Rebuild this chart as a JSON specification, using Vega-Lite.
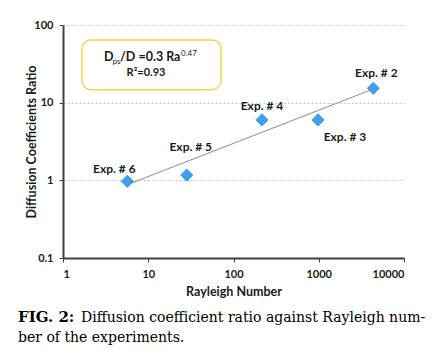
{
  "$schema": "https://vega.github.io/schema/vega-lite/v6.json",
  "width": 341,
  "height": 233,
  "autosize": {"type": "none"},
  "padding": {"left": 63, "top": 25, "right": 30, "bottom": 98},
  "background": "white",
  "config": {
    "view": {"stroke": null},
    "axis": {
      "labelFont": "Lato", "labelFontWeight": "bold", "labelFontSize": 11, "labelColor": "#1a1a1a",
      "titleFont": "Lato", "titleFontWeight": "bold", "titleFontSize": 12.5, "titleColor": "#1a1a1a",
      "domainColor": "#404040", "domainWidth": 2, "tickColor": "#404040", "tickSize": 4
    }
  },
  "title": {
    "text": "FIG. 2:",
    "subtitle": ["\u200b\u2002\u2002\u2002\u2002\u2002\u2002\u2002\u2002\u2002Diffusion coefficient ratio against Rayleigh num-", "ber of the experiments."],
    "orient": "bottom", "anchor": "start", "frame": "group", "dx": -45, "offset": 12,
    "font": "DejaVu Serif", "fontSize": 15, "fontWeight": "bold", "color": "black",
    "subtitleFont": "DejaVu Serif", "subtitleFontSize": 14, "subtitleFontWeight": "normal", "subtitleColor": "black",
    "subtitlePadding": -14, "subtitleLineHeight": 20
  },
  "datasets": {
    "points": [
      {"label": "Exp. # 2", "Ra": 4365, "ratio": 15.3},
      {"label": "Exp. # 3", "Ra": 980, "ratio": 6.0},
      {"label": "Exp. # 4", "Ra": 216, "ratio": 6.0},
      {"label": "Exp. # 5", "Ra": 28.3, "ratio": 1.17},
      {"label": "Exp. # 6", "Ra": 5.68, "ratio": 0.97}
    ],
    "trend": [
      {"Ra": 6.0, "ratio": 0.9},
      {"Ra": 4365, "ratio": 15.0}
    ],
    "box": [
      {"Ra": 1.67, "Ra2": 71.3, "ratio": 14.7, "ratio2": 64.3}
    ],
    "eq1": [{"Ra": 3.03, "ratio": 34.5}],
    "eq2": [{"Ra": 9.41, "ratio": 22.2}]
  },
  "encoding": {
    "x": {
      "field": "Ra", "type": "quantitative",
      "scale": {"type": "log", "domain": [1, 10000], "nice": false},
      "axis": {"title": "Rayleigh Number", "values": [1, 10, 100, 1000, 10000], "format": "d", "grid": false, "labelPadding": 6, "titlePadding": 6}
    },
    "y": {
      "field": "ratio", "type": "quantitative",
      "scale": {"type": "log", "domain": [0.1, 100], "nice": false},
      "axis": {"title": "Diffusion Coefficients Ratio", "values": [0.1, 1, 10, 100], "format": "~g", "grid": true, "gridColor": "#b9ccb2", "gridDash": [2, 2], "gridWidth": 1, "labelPadding": 6, "titlePadding": -5}
    }
  },
  "layer": [
    {
      "data": {"name": "box"},
      "mark": {"type": "rect", "fill": "white", "stroke": "#f7d54a", "strokeWidth": 1.5, "cornerRadius": 9},
      "encoding": {"x2": {"field": "Ra2"}, "y2": {"field": "ratio2"}}
    },
    {
      "data": {"name": "trend"},
      "mark": {"type": "line", "color": "#8c8c8c", "strokeWidth": 1},
      "encoding": {}
    },
    {
      "data": {"name": "points"},
      "mark": {"type": "point", "shape": "diamond", "filled": true, "size": 150, "fill": "#3fa0f2", "stroke": "#1d74cc", "strokeWidth": 0.6, "opacity": 1},
      "encoding": {}
    },
    {
      "data": {"name": "points"},
      "transform": [{"filter": "datum.label == 'Exp. # 2'"}],
      "mark": {"type": "text", "font": "Lato", "fontWeight": "bold", "fontSize": 12, "color": "#1a1a1a", "dx": 3, "dy": -15},
      "encoding": {"text": {"field": "label"}}
    },
    {
      "data": {"name": "points"},
      "transform": [{"filter": "datum.label == 'Exp. # 4'"}],
      "mark": {"type": "text", "font": "Lato", "fontWeight": "bold", "fontSize": 12, "color": "#1a1a1a", "dx": 0, "dy": -14},
      "encoding": {"text": {"field": "label"}}
    },
    {
      "data": {"name": "points"},
      "transform": [{"filter": "datum.label == 'Exp. # 3'"}],
      "mark": {"type": "text", "font": "Lato", "fontWeight": "bold", "fontSize": 12, "color": "#1a1a1a", "dx": 27, "dy": 17},
      "encoding": {"text": {"field": "label"}}
    },
    {
      "data": {"name": "points"},
      "transform": [{"filter": "datum.label == 'Exp. # 5'"}],
      "mark": {"type": "text", "font": "Lato", "fontWeight": "bold", "fontSize": 12, "color": "#1a1a1a", "dx": 4, "dy": -28},
      "encoding": {"text": {"field": "label"}}
    },
    {
      "data": {"name": "points"},
      "transform": [{"filter": "datum.label == 'Exp. # 6'"}],
      "mark": {"type": "text", "font": "Lato", "fontWeight": "bold", "fontSize": 12, "color": "#1a1a1a", "dx": -13, "dy": -12},
      "encoding": {"text": {"field": "label"}}
    },
    {
      "data": {"name": "eq1"},
      "mark": {"type": "text", "text": "D", "align": "left", "baseline": "alphabetic", "font": "Lato", "fontWeight": "bold", "fontSize": 12.5, "color": "#1a1a1a"},
      "encoding": {}
    },
    {
      "data": {"name": "eq1"},
      "mark": {"type": "text", "text": "ps", "align": "left", "baseline": "alphabetic", "font": "Lato", "fontWeight": "normal", "fontSize": 8, "color": "#1a1a1a", "dx": 8.5, "dy": 3},
      "encoding": {}
    },
    {
      "data": {"name": "eq1"},
      "mark": {"type": "text", "text": "/D =0.3 Ra", "align": "left", "baseline": "alphabetic", "font": "Lato", "fontWeight": "bold", "fontSize": 12.5, "color": "#1a1a1a", "dx": 16},
      "encoding": {}
    },
    {
      "data": {"name": "eq1"},
      "mark": {"type": "text", "text": "0.47", "align": "left", "baseline": "alphabetic", "font": "Lato", "fontWeight": "normal", "fontSize": 8, "color": "#1a1a1a", "dx": 77, "dy": -5},
      "encoding": {}
    },
    {
      "data": {"name": "eq2"},
      "mark": {"type": "text", "text": "R\u00b2=0.93", "align": "center", "baseline": "alphabetic", "font": "Lato", "fontWeight": "bold", "fontSize": 11, "color": "#1a1a1a"},
      "encoding": {}
    }
  ]
}
